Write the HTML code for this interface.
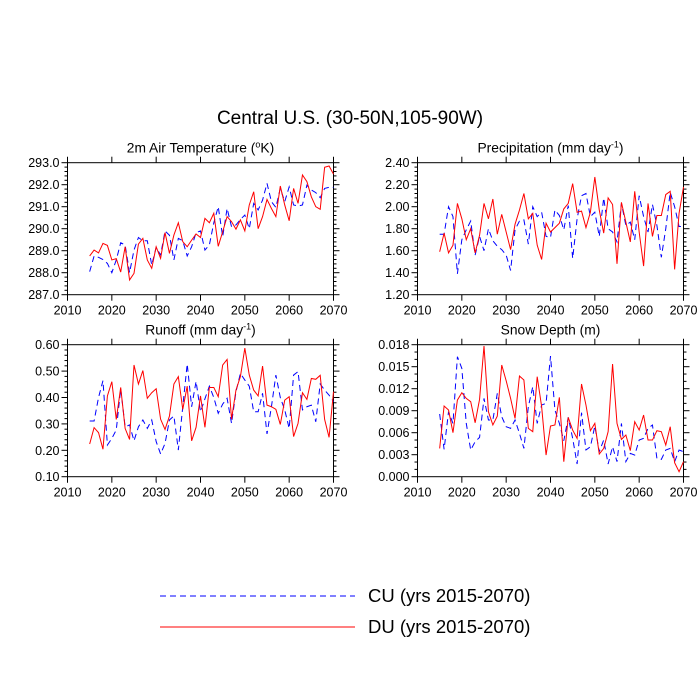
<!DOCTYPE html>
<html><head><meta charset="utf-8"><style>
body{margin:0;background:#fff;}
svg{display:block;font-family:"Liberation Sans",sans-serif;}
</style></head><body>
<svg id="c" width="700" height="700">
<text x="350" y="124" text-anchor="middle" font-size="19">Central U.S. (30-50N,105-90W)</text>
<line x1="160" y1="596" x2="355" y2="596" stroke="#00f" stroke-dasharray="6,4"/>
<text x="368" y="602" font-size="18.5">CU (yrs 2015-2070)</text>
<line x1="160" y1="627" x2="355" y2="627" stroke="#f00"/>
<text x="368" y="633" font-size="18.5">DU (yrs 2015-2070)</text>
</svg>
<script>
const years=[];for(let y=2015;y<=2070;y++)years.push(y);
const xTicks=[2010,2020,2030,2040,2050,2060,2070];
const tempDU=[288.76,289.03,288.9,289.33,289.24,288.58,288.64,288.03,289.18,287.67,287.97,289.3,289.56,288.58,288.2,289.18,288.65,289.82,288.88,289.71,290.27,289.41,289.18,289.48,289.76,289.6,290.47,290.27,290.7,289.2,289.86,290.55,290.32,289.98,290.4,289.9,291.08,291.68,290.0,290.55,291.33,290.92,290.55,291.94,291.08,290.36,291.83,291.15,292.44,292.14,291.45,291.0,290.88,292.79,292.85,292.48];
const tempCU=[288.05,288.76,288.7,288.6,288.42,288.0,288.58,289.36,289.26,288.0,289.03,289.6,289.45,289.45,288.35,289.15,288.8,289.9,289.7,288.58,289.56,289.45,288.76,289.18,289.82,289.9,289.03,289.26,290.27,291.0,289.64,290.92,290.09,290.17,290.42,290.62,290.0,291.15,290.85,291.3,292.06,291.23,290.97,291.83,291.23,291.9,291.08,291.03,291.08,291.98,291.76,291.64,291.41,291.83,291.88,291.88];
const precDU=[1.59,1.76,1.58,1.65,2.03,1.89,1.70,1.80,1.58,1.74,2.03,1.89,2.07,1.75,1.93,1.77,1.61,1.84,1.97,2.12,1.89,1.94,1.65,1.52,1.85,1.77,1.81,1.85,1.98,2.03,2.21,1.95,1.96,1.81,1.95,2.27,1.97,1.76,2.08,2.02,1.48,2.04,1.86,1.68,2.14,1.77,1.46,2.03,1.73,1.92,1.92,2.11,2.14,1.43,1.94,2.18];
const precCU=[1.75,1.75,2.0,1.91,1.39,1.70,1.79,1.87,1.56,1.73,1.60,1.80,1.69,1.64,1.61,1.56,1.42,1.79,1.87,1.88,1.66,2.0,1.91,1.95,1.73,1.72,1.97,1.92,1.79,2.01,1.53,1.89,2.10,2.12,1.91,1.95,1.73,2.08,1.80,1.77,1.68,2.03,1.83,1.86,1.70,2.10,1.91,1.77,2.02,1.83,1.54,1.80,2.13,2.0,1.82,1.82];
const runDU=[0.224,0.286,0.267,0.204,0.406,0.46,0.317,0.438,0.283,0.241,0.523,0.451,0.502,0.397,0.418,0.433,0.318,0.279,0.33,0.451,0.479,0.355,0.443,0.236,0.287,0.406,0.287,0.438,0.438,0.403,0.523,0.544,0.318,0.428,0.479,0.587,0.485,0.428,0.406,0.519,0.371,0.365,0.355,0.298,0.39,0.403,0.252,0.302,0.418,0.393,0.472,0.469,0.484,0.317,0.249,0.422];
const runCU=[0.311,0.311,0.40,0.464,0.22,0.245,0.277,0.433,0.289,0.296,0.236,0.289,0.315,0.283,0.315,0.233,0.186,0.226,0.315,0.33,0.201,0.365,0.527,0.365,0.461,0.346,0.395,0.443,0.40,0.34,0.375,0.397,0.302,0.422,0.491,0.466,0.443,0.346,0.346,0.416,0.262,0.365,0.485,0.40,0.353,0.283,0.485,0.498,0.353,0.365,0.371,0.308,0.451,0.428,0.409,0.384];
const snowDU=[0.00386,0.00964,0.00909,0.006,0.01045,0.01145,0.01068,0.01023,0.00736,0.01055,0.01782,0.00886,0.00705,0.00827,0.01523,0.01309,0.01068,0.00795,0.01373,0.01318,0.00659,0.00614,0.01364,0.00955,0.00295,0.00691,0.00705,0.01082,0.00205,0.00809,0.00636,0.00523,0.01264,0.00977,0.00627,0.00727,0.00309,0.00386,0.00614,0.01536,0.00727,0.00509,0.00568,0.00355,0.0075,0.00636,0.00841,0.005,0.005,0.00627,0.00614,0.00432,0.00682,0.00191,0.00068,0.00205];
const snowCU=[0.00855,0.00373,0.00886,0.00727,0.01636,0.01477,0.00727,0.00364,0.00477,0.00536,0.01068,0.00773,0.00773,0.01136,0.00818,0.00682,0.00659,0.00773,0.00591,0.00386,0.00955,0.01227,0.00727,0.00977,0.01,0.01645,0.00909,0.00727,0.00491,0.00809,0.00523,0.00173,0.00873,0.00364,0.00409,0.00691,0.00341,0.005,0.00173,0.00409,0.00205,0.00727,0.00205,0.00318,0.00295,0.005,0.00523,0.00659,0.00705,0.0025,0.00236,0.00364,0.00386,0.00205,0.00364,0.00341];
const tempTicks=["287.0","288.0","289.0","290.0","291.0","292.0","293.0"];
const precTicks=["1.20","1.40","1.60","1.80","2.00","2.20","2.40"];
const runTicks=["0.10","0.20","0.30","0.40","0.50","0.60"];
const snowTicks=["0.000","0.003","0.006","0.009","0.012","0.015","0.018"];

const svg=document.getElementById('c');const NS='http://www.w3.org/2000/svg';
function mk(t,a,p){const e=document.createElementNS(NS,t);for(const k in a)e.setAttribute(k,a[k]);(p||svg).appendChild(e);return e;}
function panel(name,title,sup,L,T,W,H,ticks,minors,du,cu){
  const g=mk('g',{});
  
  
  const lo=+ticks[0],hi=+ticks[ticks.length-1];
  const xs=y=>L+(y-2010)/60*W, ys=v=>T+H-(v-lo)/(hi-lo)*H;
  const tt=mk('text',{x:L+W/2,y:T-10,'text-anchor':'middle','font-size':13.8},g);
  tt.textContent=title;
  if(sup){const s=mk('tspan',{'font-size':9,dy:-5},tt);s.textContent=sup[0];const r=mk('tspan',{'font-size':13.8,dy:5},tt);r.textContent=sup[1];}
  
  
  mk('rect',{x:L,y:T,width:W,height:H,fill:'none',stroke:'#000','stroke-width':1},g);
  xTicks.forEach(v=>{const x=xs(v);
    mk('line',{x1:x,y1:T+H,x2:x,y2:T+H+6,stroke:'#000'},g);
    mk('line',{x1:x,y1:T,x2:x,y2:T-6,stroke:'#000'},g);
    const t=mk('text',{x:x,y:T+H+20,'text-anchor':'middle','font-size':12.5},g);t.textContent=v;
    
    });
  const n=ticks.length-1;
  for(let i=0;i<=n*minors;i++){const y=T+H-i/(n*minors)*H;const len=i%minors==0?6:3;
    mk('line',{x1:L,y1:y,x2:L-len,y2:y,stroke:'#000'},g);
    mk('line',{x1:L+W,y1:y,x2:L+W+len,y2:y,stroke:'#000'},g);}
  ticks.forEach(v=>{const t=mk('text',{x:L-8,y:ys(+v)+4.5,'text-anchor':'end','font-size':12.5},g);t.textContent=v;
    
    });
  const p1=mk('polyline',{points:cu.map((v,i)=>xs(years[i])+','+ys(v)).join(' '),fill:'none',stroke:'#00f','stroke-dasharray':'6,4'},g);
  
  
  const p2=mk('polyline',{points:du.map((v,i)=>xs(years[i])+','+ys(v)).join(' '),fill:'none',stroke:'#f00'},g);
  
  
}
panel('temperature','2m Air Temperature (',['o','K)'],67.5,162.7,266,132,tempTicks,5,tempDU,tempCU);
panel('precipitation','Precipitation (mm day',['-1',')'],417.5,162.7,266,132,precTicks,5,precDU,precCU);
panel('runoff','Runoff (mm day',['-1',')'],67.5,344.7,266,132,runTicks,5,runDU,runCU);
panel('snow-depth','Snow Depth (m)',null,417.5,344.7,266,132,snowTicks,3,snowDU,snowCU);
</script>
</body></html>
